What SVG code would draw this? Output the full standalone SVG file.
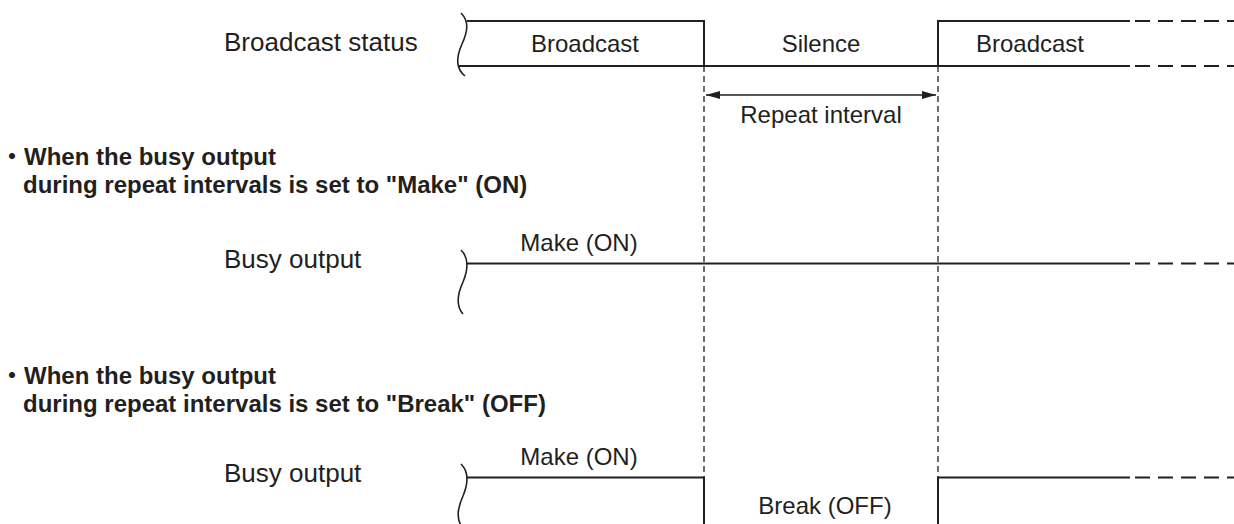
<svg xmlns="http://www.w3.org/2000/svg" width="1234" height="524" viewBox="0 0 1234 524">
<style>
.t{font-family:"Liberation Sans",Arial,sans-serif;fill:#231f20}
.lab{font-size:26px}
.box{font-size:24px;text-anchor:middle}
.h{font-family:"Liberation Sans","Noto Sans CJK JP",sans-serif;font-size:24px;font-weight:bold;fill:#231f20}
.w{fill:none;stroke:#231f20;stroke-width:2}
.sq{fill:none;stroke:#231f20;stroke-width:1.6}
.ext{fill:none;stroke:#231f20;stroke-width:2;stroke-dasharray:15 8}
.guide{fill:none;stroke:#231f20;stroke-width:1.3;stroke-dasharray:6 4}
</style>
<defs>
<marker id="ah" viewBox="0 0 14 8" refX="14" refY="4" markerWidth="14" markerHeight="8" markerUnits="userSpaceOnUse" orient="auto-start-reverse">
<path d="M0,0 L14,4 L0,8 Z" fill="#231f20"/>
</marker>
</defs>
<rect width="1234" height="524" fill="#fff"/>

<g id="headings">
<text class="h" x="0" y="165">・When the busy output</text>
<text class="h" x="23" y="193">during repeat intervals is set to "Make" (ON)</text>
<text class="h" x="0" y="384">・When the busy output</text>
<text class="h" x="23" y="412">during repeat intervals is set to "Break" (OFF)</text>
</g>

<g id="connectors">
<path class="guide" d="M704,66 V524 M938,66 V524"/>
<line x1="706" y1="95" x2="936" y2="95" stroke="#231f20" stroke-width="1.5" marker-start="url(#ah)" marker-end="url(#ah)"/>
</g>

<g id="broadcast-status">
<text class="t lab" x="224" y="51">Broadcast status</text>
<path class="sq" d="M461,13 C470,22 467,33 462,44 C457,55 455,68 465,76"/>
<path class="w" d="M467,21 H704 V66 M459,66 H1130 M938,66 V21 H1130"/>
<path class="ext" d="M1135,21 H1234 M1135,66 H1234"/>
<text class="t box" x="585" y="52">Broadcast</text>
<text class="t box" x="821" y="52">Silence</text>
<text class="t box" x="1030" y="52">Broadcast</text>
<text class="t box" x="821" y="123">Repeat interval</text>
</g>

<g id="busy-make">
<text class="t lab" x="224" y="268">Busy output</text>
<path class="sq" d="M461,250 C469,258 468,270 463,282 C457,295 456,306 463,314"/>
<path class="w" d="M466,263.5 H1130"/>
<path class="ext" d="M1135,263.5 H1234"/>
<text class="t box" x="579" y="251">Make (ON)</text>
</g>

<g id="busy-break">
<text class="t lab" x="224" y="482">Busy output</text>
<path class="sq" d="M461,464 C469,472 468,484 463,496 C457,509 456,520 463,528"/>
<path class="w" d="M466,477.5 H704 V524 M938,524 V477.5 H1130"/>
<path class="ext" d="M1135,477.5 H1234"/>
<text class="t box" x="579" y="465">Make (ON)</text>
<text class="t box" x="825" y="514">Break (OFF)</text>
</g>
</svg>
